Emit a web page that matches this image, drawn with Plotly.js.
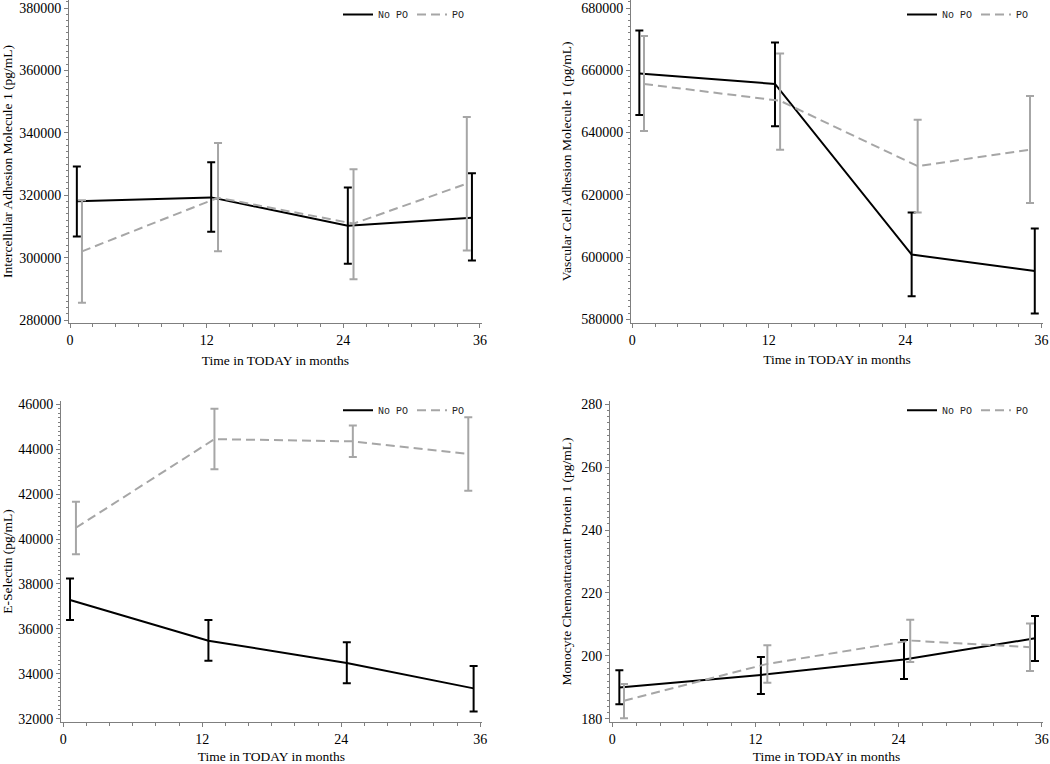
<!DOCTYPE html>
<html>
<head>
<meta charset="utf-8">
<script src="https://cdn.plot.ly/plotly-3.0.1.min.js"></script>
<style>html,body{margin:0;padding:0;background:#fff;}#chart{width:1050px;height:764px;}</style>
</head>
<body>
<div id="chart"></div>
<script>
// ---- data ----
var seriesNames = ['No PO', 'PO'];
var xTitle = 'Time in TODAY in months';
var xTickVals = [0, 12, 24, 36];

// Panel 1: ICAM-1
var p1Title = 'Intercellular Adhesion Molecule 1 (pg/mL)';
var p1_noPO_x = [0.6, 12.4, 24.4, 35.3];
var p1_noPO_mean = [318100, 319300, 310200, 312800];
var p1_noPO_low = [306800, 308300, 298000, 299100];
var p1_noPO_high = [329200, 330600, 322500, 327000];
var p1_PO_x = [1.05, 13.0, 24.9, 34.85];
var p1_PO_mean = [302000, 319200, 310900, 323700];
var p1_PO_low = [285500, 302000, 293100, 302300];
var p1_PO_high = [318400, 336700, 328300, 345100];
var p1_yTicks = [280000, 300000, 320000, 340000, 360000, 380000];

// Panel 2: VCAM-1
var p2Title = 'Vascular Cell Adhesion Molecule 1 (pg/mL)';
var p2_noPO_x = [0.62, 12.55, 24.57, 35.4];
var p2_noPO_mean = [659000, 655600, 600800, 595500];
var p2_noPO_low = [645600, 642000, 587400, 581900];
var p2_noPO_high = [672800, 668900, 614300, 609200];
var p2_PO_x = [1.03, 13.0, 25.1, 34.98];
var p2_PO_mean = [655600, 650200, 629200, 634500];
var p2_PO_low = [640500, 634500, 614300, 617400];
var p2_PO_high = [671000, 665400, 644100, 651700];
var p2_yTicks = [580000, 600000, 620000, 640000, 660000, 680000];

// Panel 3: E-Selectin
var p3Title = 'E-Selectin (pg/mL)';
var p3_noPO_x = [0.58, 12.53, 24.48, 35.43];
var p3_noPO_mean = [37290, 35480, 34490, 33360];
var p3_noPO_low = [36400, 34590, 33590, 32330];
var p3_noPO_high = [38240, 36400, 35410, 34360];
var p3_PO_x = [1.09, 13.05, 25.0, 34.97];
var p3_PO_mean = [40500, 44440, 44340, 43780];
var p3_PO_low = [39320, 43100, 43640, 42150];
var p3_PO_high = [41660, 45790, 45040, 45410];
var p3_yTicks = [32000, 34000, 36000, 38000, 40000, 42000, 44000, 46000];

// Panel 4: MCP-1
var p4Title = 'Monocyte Chemoattractant Protein 1 (pg/mL)';
var p4_noPO_x = [0.59, 12.46, 24.46, 35.44];
var p4_noPO_mean = [190.0, 194.0, 198.9, 205.6];
var p4_noPO_low = [184.7, 187.9, 192.7, 198.4];
var p4_noPO_high = [195.5, 199.7, 205.1, 212.7];
var p4_PO_x = [0.98, 13.0, 24.98, 35.02];
var p4_PO_mean = [185.8, 197.5, 204.9, 202.8];
var p4_PO_low = [180.2, 191.5, 198.1, 195.2];
var p4_PO_high = [191.1, 203.4, 211.5, 210.3];
var p4_yTicks = [180, 200, 220, 240, 260, 280];

// ---- styling ----
var BLACK = '#000000';
var GREY = '#a6a6a6';
var AXIS = '#7f7f7f';
var SERIF = '"Liberation Serif", "Times New Roman", serif';
var MONO = '"Liberation Mono", "DejaVu Sans Mono", monospace';

function diff(a, b) { return a.map(function (v, i) { return v - b[i]; }); }

function makeTraces(ax, leg, nx, nm, nl, nh, px, pm, pl, ph) {
  var xa = 'x' + (ax === 1 ? '' : ax), ya = 'y' + (ax === 1 ? '' : ax);
  return [
    {
      type: 'scatter', mode: 'lines', name: seriesNames[0], x: nx, y: nm,
      xaxis: xa, yaxis: ya, legend: leg,
      line: {color: BLACK, width: 2},
      error_y: {type: 'data', symmetric: false, array: diff(nh, nm), arrayminus: diff(nm, nl),
        color: BLACK, thickness: 2, width: 4}
    },
    {
      type: 'scatter', mode: 'lines', name: seriesNames[1], x: px, y: pm,
      xaxis: xa, yaxis: ya, legend: leg,
      line: {color: GREY, width: 2, dash: '9px,5px'},
      error_y: {type: 'data', symmetric: false, array: diff(ph, pm), arrayminus: diff(pm, pl),
        color: GREY, thickness: 2, width: 4}
    }
  ];
}

var data = []
  .concat(makeTraces(1, 'legend', p1_noPO_x, p1_noPO_mean, p1_noPO_low, p1_noPO_high, p1_PO_x, p1_PO_mean, p1_PO_low, p1_PO_high))
  .concat(makeTraces(2, 'legend2', p2_noPO_x, p2_noPO_mean, p2_noPO_low, p2_noPO_high, p2_PO_x, p2_PO_mean, p2_PO_low, p2_PO_high))
  .concat(makeTraces(3, 'legend3', p3_noPO_x, p3_noPO_mean, p3_noPO_low, p3_noPO_high, p3_PO_x, p3_PO_mean, p3_PO_low, p3_PO_high))
  .concat(makeTraces(4, 'legend4', p4_noPO_x, p4_noPO_mean, p4_noPO_low, p4_noPO_high, p4_PO_x, p4_PO_mean, p4_PO_low, p4_PO_high));

function xAxis(domain, range, anchor) {
  return {
    domain: domain, range: range, anchor: anchor,
    tickmode: 'array', tickvals: xTickVals, ticktext: xTickVals.map(String),
    showgrid: false, zeroline: false, showline: true, linecolor: AXIS, linewidth: 1,
    ticks: 'outside', ticklen: 4, tickcolor: AXIS, tickwidth: 1,
    minor: {dtick: 2, tick0: 0, ticks: 'outside', ticklen: 3, tickcolor: AXIS, showgrid: false},
    tickfont: {family: SERIF, size: 14, color: '#000'},
    ticklabeloverflow: 'allow',
    title: {text: xTitle, font: {family: SERIF, size: 13.5, color: '#000'}, standoff: 8},
    fixedrange: true
  };
}
function yAxis(domain, range, anchor, ticks, minorStep, title) {
  return {
    domain: domain, range: range, anchor: anchor,
    tickmode: 'array', tickvals: ticks, ticktext: ticks.map(String),
    showgrid: false, zeroline: false, showline: true, linecolor: AXIS, linewidth: 1,
    ticks: 'outside', ticklen: 4, tickcolor: AXIS, tickwidth: 1,
    minor: {dtick: minorStep, tick0: 0, ticks: 'outside', ticklen: 2, tickcolor: AXIS, showgrid: false},
    tickfont: {family: SERIF, size: 14, color: '#000'},
    ticklabeloverflow: 'allow',
    title: {text: title, font: {family: SERIF, size: 13.5, color: '#000'}, standoff: 6},
    fixedrange: true
  };
}
function legend(x, y, xanchor) {
  return {
    x: x, y: y, xanchor: xanchor, yanchor: 'top', orientation: 'h',
    bgcolor: 'rgba(0,0,0,0)', borderwidth: 0,
    font: {family: MONO, size: 10, color: '#222'},
    itemwidth: 30, entrywidth: 29, entrywidthmode: 'pixels', tracegroupgap: 0
  };
}

var layout = {
  width: 1050, height: 764,
  margin: {l: 0, r: 0, t: 0, b: 0},
  paper_bgcolor: '#ffffff', plot_bgcolor: '#ffffff',
  showlegend: true,
  xaxis: xAxis([0.0657, 0.4590], [-0.09, 36.18], 'y'),
  yaxis: yAxis([0.5772, 1.0], [279038, 382564], 'x', p1_yTicks, 2000, p1Title),
  xaxis2: xAxis([0.6010, 0.9933], [-0.11, 36.12], 'y2'),
  yaxis2: yAxis([0.5776, 1.0], [578908, 682570], 'x2', p2_yTicks, 2000, p2Title),
  xaxis3: xAxis([0.0581, 0.4590], [-0.2, 36.15], 'y3'),
  yaxis3: yAxis([0.0546, 0.4755], [31853, 46147], 'x3', p3_yTicks, 200, p3Title),
  xaxis4: xAxis([0.5810, 0.9933], [-0.19, 36.11], 'y4'),
  yaxis4: yAxis([0.0546, 0.4755], [178.95, 281.05], 'x4', p4_yTicks, 2, p4Title),
  legend: legend(338 / 1050, 1.0, 'left'),
  legend2: legend(1.0, 1.0, 'right'),
  legend3: legend(338 / 1050, 0.482, 'left'),
  legend4: legend(1.0, 0.482, 'right')
};

Plotly.newPlot('chart', data, layout, {displayModeBar: false, staticPlot: true});
</script>
</body>
</html>
